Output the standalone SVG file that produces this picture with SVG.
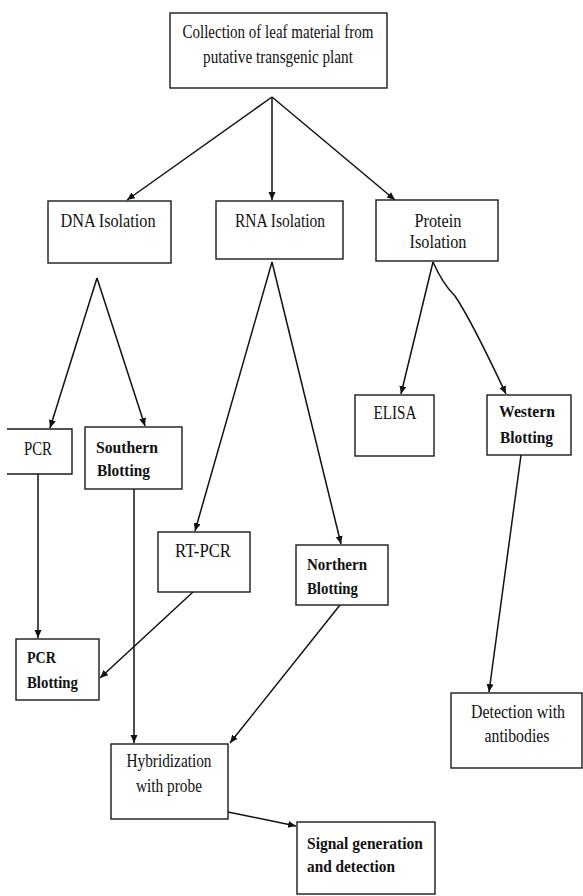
<svg xmlns="http://www.w3.org/2000/svg" width="583" height="896" viewBox="0 0 583 896">
<style>
.box{fill:#fff;stroke:#1a1a1a;stroke-width:1.4}
.t{font-family:"Liberation Serif","Times New Roman",serif;font-size:18px;fill:#111}
.c{text-anchor:middle}
.b{font-weight:bold;font-size:17.5px}
.ln{fill:none;stroke:#111;stroke-width:1.5}
</style>
<defs>
<marker id="ah" markerUnits="userSpaceOnUse" markerWidth="9" markerHeight="8" refX="8" refY="3.5" orient="auto">
<path d="M0,0 L8,3.5 L0,7 z" fill="#111"/>
</marker>
</defs>
<rect width="583" height="896" fill="#fff"/>

<g id="connectors">
<polyline class="ln" points="272,97 127,200" marker-end="url(#ah)"/>
<polyline class="ln" points="272,97 272,200" marker-end="url(#ah)"/>
<polyline class="ln" points="272,97 395,200" marker-end="url(#ah)"/>
<polyline class="ln" points="97,278 50,428" marker-end="url(#ah)"/>
<polyline class="ln" points="97,278 145,426" marker-end="url(#ah)"/>
<polyline class="ln" points="272,262 195,531" marker-end="url(#ah)"/>
<polyline class="ln" points="272,262 341,544" marker-end="url(#ah)"/>
<polyline class="ln" points="433,262 401,394" marker-end="url(#ah)"/>
<path class="ln" d="M433,262 C440,278 446,287 455,296 C470,318 490,360 506,394" marker-end="url(#ah)"/>
<polyline class="ln" points="38,474 38,638" marker-end="url(#ah)"/>
<polyline class="ln" points="193,592 100,678" marker-end="url(#ah)"/>
<polyline class="ln" points="134,489 134,743" marker-end="url(#ah)"/>
<polyline class="ln" points="340,605 230,743" marker-end="url(#ah)"/>
<polyline class="ln" points="521,455 489,692" marker-end="url(#ah)"/>
<polyline class="ln" points="228,812 296,826" marker-end="url(#ah)"/>
</g>

<g id="collection">
<rect class="box" x="170" y="13" width="217" height="75"/>
<text class="t c" x="278" y="38" textLength="191" lengthAdjust="spacingAndGlyphs">Collection of leaf material from</text>
<text class="t c" x="278" y="63" textLength="150" lengthAdjust="spacingAndGlyphs">putative transgenic plant</text>
</g>

<g id="dna">
<rect class="box" x="48" y="201" width="123" height="62"/>
<text class="t c" x="108" y="227" textLength="95" lengthAdjust="spacingAndGlyphs">DNA Isolation</text>
</g>
<g id="rna">
<rect class="box" x="216" y="201" width="127" height="58"/>
<text class="t c" x="280" y="227" textLength="90" lengthAdjust="spacingAndGlyphs">RNA Isolation</text>
</g>
<g id="protein">
<rect class="box" x="376" y="200" width="122" height="61"/>
<text class="t c" x="438" y="227" textLength="47" lengthAdjust="spacingAndGlyphs">Protein</text>
<text class="t c" x="438" y="248" textLength="57" lengthAdjust="spacingAndGlyphs">Isolation</text>
</g>

<g id="pcr">
<path class="box" d="M7,429 H72 V474 H7"/>
<text class="t c" x="38" y="455" textLength="28" lengthAdjust="spacingAndGlyphs">PCR</text>
</g>
<g id="southern">
<rect class="box" x="85" y="427" width="97" height="62"/>
<text class="t b" x="96" y="453" textLength="62" lengthAdjust="spacingAndGlyphs">Southern</text>
<text class="t b" x="97" y="476" textLength="53" lengthAdjust="spacingAndGlyphs">Blotting</text>
</g>
<g id="elisa">
<rect class="box" x="355" y="395" width="79" height="61"/>
<text class="t c" x="395" y="419" textLength="43" lengthAdjust="spacingAndGlyphs">ELISA</text>
</g>
<g id="western">
<rect class="box" x="487" y="395" width="84" height="60"/>
<text class="t b" x="499" y="417" textLength="56" lengthAdjust="spacingAndGlyphs">Western</text>
<text class="t b" x="500" y="443" textLength="53" lengthAdjust="spacingAndGlyphs">Blotting</text>
</g>

<g id="rtpcr">
<rect class="box" x="158" y="532" width="92" height="60"/>
<text class="t c" x="203" y="557" textLength="56" lengthAdjust="spacingAndGlyphs">RT-PCR</text>
</g>
<g id="northern">
<rect class="box" x="296" y="545" width="92" height="60"/>
<text class="t b" x="307" y="570" textLength="60" lengthAdjust="spacingAndGlyphs">Northern</text>
<text class="t b" x="307" y="594" textLength="51" lengthAdjust="spacingAndGlyphs">Blotting</text>
</g>

<g id="pcrblotting">
<rect class="box" x="16" y="639" width="83" height="61"/>
<text class="t b" x="27" y="663" textLength="29" lengthAdjust="spacingAndGlyphs">PCR</text>
<text class="t b" x="27" y="688" textLength="51" lengthAdjust="spacingAndGlyphs">Blotting</text>
</g>
<g id="detection">
<rect class="box" x="451" y="693" width="131" height="75"/>
<text class="t c" x="518" y="718" textLength="94" lengthAdjust="spacingAndGlyphs">Detection with</text>
<text class="t c" x="517" y="742" textLength="65" lengthAdjust="spacingAndGlyphs">antibodies</text>
</g>
<g id="hybridization">
<rect class="box" x="111" y="744" width="117" height="75"/>
<text class="t c" x="169" y="767" textLength="85" lengthAdjust="spacingAndGlyphs">Hybridization</text>
<text class="t c" x="169" y="792" textLength="66" lengthAdjust="spacingAndGlyphs">with probe</text>
</g>
<g id="signal">
<rect class="box" x="297" y="822" width="138" height="72"/>
<text class="t b" x="307" y="849" textLength="116" lengthAdjust="spacingAndGlyphs">Signal generation</text>
<text class="t b" x="307" y="872" textLength="88" lengthAdjust="spacingAndGlyphs">and detection</text>
</g>
</svg>
